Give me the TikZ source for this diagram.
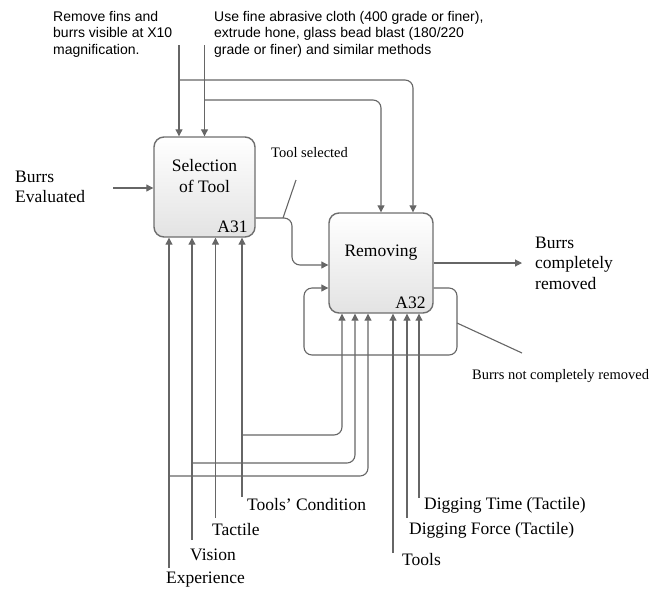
\documentclass[tikz,border=0pt]{standalone}
\usepackage{fontspec}
\setmainfont{Liberation Serif}
\newfontfamily\notefont{Liberation Sans}
\usetikzlibrary{arrows.meta}

\definecolor{linegray}{HTML}{666666}
\definecolor{boxgray}{HTML}{6E6E6E}

\tikzset{
  act/.style={draw=boxgray, line width=1.4pt, rounded corners=10pt,
    top color=white, bottom color=black!11, minimum width=101pt,
    minimum height=100pt, inner sep=0pt},
  flow/.style={draw=linegray, line width=1.1pt, rounded corners=8pt,
    -{Triangle[length=7pt,width=7pt]}},
  wire/.style={draw=linegray, line width=1.1pt, rounded corners=8pt},
  lbl/.style={font=\fontsize{17.5}{20.5}\selectfont, inner sep=0pt, align=left},
  small/.style={font=\fontsize{14.5}{17}\selectfont, inner sep=0pt},
  note/.style={font=\notefont\fontsize{14}{16.5}\selectfont, inner sep=0pt,
    align=left, anchor=north west},
}

\begin{document}
\begin{tikzpicture}[x=1pt, y=-1pt]
  \useasboundingbox (0,0) rectangle (655,590);

  % activities
  \node[act] (A31) at (204.5,187) {};
  \node[act, minimum width=104pt] (A32) at (381,263) {};
  \node[lbl, align=center] at ([yshift=11pt]A31.center) {Selection\\of Tool};
  \node[lbl, anchor=base east] at ([xshift=-8pt,yshift=5pt]A31.south east) {A31};
  \node[lbl] at ([yshift=10pt]A32.center) {Removing};
  \node[lbl, anchor=base east] at ([xshift=-8pt,yshift=5pt]A32.south east) {A32};

  % controls
  \node[note] (rules) at (53,11) {Remove fins and\\burrs visible at X10\\magnification.};
  \node[note] (methods) at (214,11) {Use fine abrasive cloth (400 grade or finer),\\extrude hone, glass bead blast (180/220\\grade or finer) and similar methods};
  \coordinate (c1) at (179,45);
  \coordinate (c2) at (204.5,45);
  \draw[flow] (c1) -- (c1 |- A31.north);
  \draw[flow] (c2) -- (A31.north);
  \draw[flow] (c1 |- 0,80) -| ([xshift=32pt]A32.north);
  \draw[flow] (c2 |- 0,100) -| (A32.north);

  % input
  \node[lbl, anchor=west] (bin) at (15,187) {Burrs\\Evaluated};
  \coordinate (in) at (113,188);
  \draw[flow] (in) -- (in -| A31.west);

  % A31 -> A32
  \coordinate (turn) at (292,265);
  \draw[flow] ([yshift=-31pt]A31.east) -| (turn) -- (turn -| A32.west);
  \node[small, anchor=west] (sel) at (271,153) {Tool selected};
  \draw[wire] (283,218) -- (296,180);

  % output
  \node[lbl, anchor=west] (bout) at (535,263) {Burrs\\completely\\removed};
  \draw[flow] (A32.east) -- (522,263);

  % feedback
  \draw[flow] ([yshift=-25pt]A32.east) -| (457,355) -| (304,288) -- ([yshift=-25pt]A32.west);
  \node[small, anchor=west] (notrem) at (472,376) {Burrs not completely removed};
  \draw[wire] (457,323) -- (522,353);

  % mechanisms A31
  \coordinate (m1) at (169,568);
  \coordinate (m2) at (192,540);
  \coordinate (m3) at (215.5,518);
  \coordinate (m4) at (242,497);
  \node[lbl, anchor=west] at (166,580) {Experience};
  \node[lbl, anchor=west] at (190,555) {Vision};
  \node[lbl, anchor=west] at (212,530) {Tactile};
  \node[lbl, anchor=west] at (247,505) {Tools’ Condition};
  \draw[flow] (m1) -- (m1 |- A31.south);
  \draw[flow] (m2) -- (m2 |- A31.south);
  \draw[flow] (m3) -- (m3 |- A31.south);
  \draw[flow] (m4) -- (m4 |- A31.south);
  \draw[flow] (m4 |- 0,435) -| ([xshift=-39pt]A32.south);
  \draw[flow] (m2 |- 0,463) -| ([xshift=-26pt]A32.south);
  \draw[flow] (m1 |- 0,476) -| ([xshift=-13pt]A32.south);

  % mechanisms A32
  \coordinate (m5) at (393,553);
  \coordinate (m6) at (407,518);
  \coordinate (m7) at (419,498);
  \node[lbl, anchor=west] at (402,560) {Tools};
  \node[lbl, anchor=west] at (409,530) {Digging Force (Tactile)};
  \node[lbl, anchor=west] at (424,505) {Digging Time (Tactile)};
  \draw[flow] (m5) -- (m5 |- A32.south);
  \draw[flow] (m6) -- (m6 |- A32.south);
  \draw[flow] (m7) -- (m7 |- A32.south);
\end{tikzpicture}
\end{document}
